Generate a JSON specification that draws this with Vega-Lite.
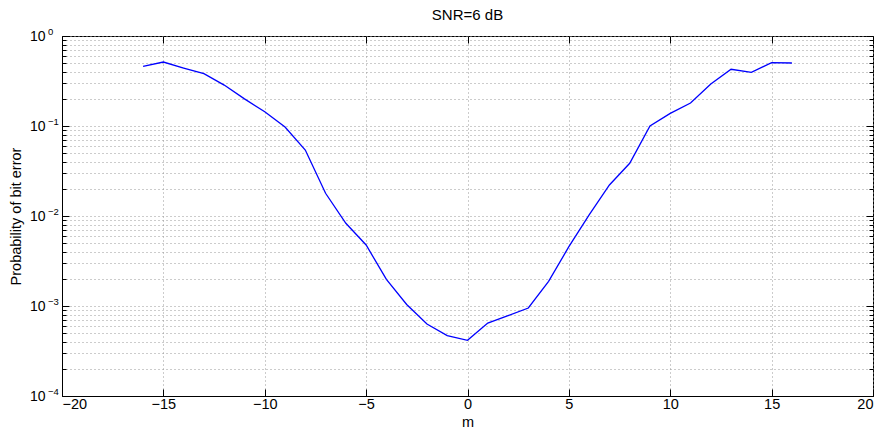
{
  "$schema": "https://vega.github.io/schema/vega-lite/v6.json",
  "width": 811,
  "height": 360,
  "autosize": {"type": "none"},
  "padding": {"left": 62, "top": 36, "right": 9, "bottom": 34},
  "background": "white",
  "title": {"text": "SNR=6 dB", "fontSize": 15, "fontWeight": "normal", "font": "Liberation Sans", "offset": 4, "color": "black"},
  "config": {
    "view": {"stroke": "black", "strokeWidth": 1},
    "axis": {"domainColor": "black", "tickColor": "black", "labelColor": "black", "titleColor": "black", "labelFont": "Liberation Sans", "titleFont": "Liberation Sans", "titleFontWeight": "normal"}
  },
  "datasets": {
    "curve": [
      {"m": -16, "p": 0.46}, {"m": -15, "p": 0.514}, {"m": -14, "p": 0.44}, {"m": -13, "p": 0.381},
      {"m": -12, "p": 0.285}, {"m": -11, "p": 0.2}, {"m": -10, "p": 0.144}, {"m": -9, "p": 0.0975},
      {"m": -8, "p": 0.054}, {"m": -7, "p": 0.0179}, {"m": -6, "p": 0.0083}, {"m": -5, "p": 0.00476},
      {"m": -4, "p": 0.00198}, {"m": -3, "p": 0.00104}, {"m": -2, "p": 0.00063}, {"m": -1, "p": 0.000468},
      {"m": 0, "p": 0.000416}, {"m": 1, "p": 0.000647}, {"m": 2, "p": 0.00078}, {"m": 3, "p": 0.00095},
      {"m": 4, "p": 0.00188}, {"m": 5, "p": 0.00456}, {"m": 6, "p": 0.0103}, {"m": 7, "p": 0.0221},
      {"m": 8, "p": 0.0385}, {"m": 9, "p": 0.1}, {"m": 10, "p": 0.138}, {"m": 11, "p": 0.18},
      {"m": 12, "p": 0.293}, {"m": 13, "p": 0.427}, {"m": 14, "p": 0.395}, {"m": 15, "p": 0.506},
      {"m": 16, "p": 0.501}
    ],
    "exponents": [
      {"p": 1, "e": "0"}, {"p": 0.1, "e": "−1"}, {"p": 0.01, "e": "−2"}, {"p": 0.001, "e": "−3"}, {"p": 0.0001, "e": "−4"}
    ]
  },
  "layer": [
    {
      "data": {"name": "curve"},
      "mark": {"type": "line", "color": "#0000ff", "strokeWidth": 1.3},
      "encoding": {
        "x": {"field": "m", "type": "quantitative", "scale": {"domain": [-20, 20], "nice": false, "zero": false},
          "axis": {"orient": "bottom", "values": [-20, -15, -10, -5, 0, 5, 10, 15, 20], "grid": true, "gridDash": [1, 3], "gridColor": "#999", "gridOpacity": 1,
            "tickSize": -7, "labelFontSize": 14.5, "labelPadding": 8, "title": "m", "titleFontSize": 14.5, "titlePadding": 5, "domain": true}},
        "y": {"field": "p", "type": "quantitative", "scale": {"type": "log", "domain": [0.0001, 1], "nice": false},
          "axis": {"orient": "left",
            "values": [0.0001, 0.0002, 0.0003, 0.0004, 0.0005, 0.0006, 0.0007, 0.0008, 0.0009, 0.001, 0.002, 0.003, 0.004, 0.005, 0.006, 0.007, 0.008, 0.009, 0.01, 0.02, 0.03, 0.04, 0.05, 0.06, 0.07, 0.08, 0.09, 0.1, 0.2, 0.3, 0.4, 0.5, 0.6, 0.7, 0.8, 0.9, 1],
            "labelExpr": "indexof([1, 0.1, 0.01, 0.001, 0.0001], datum.value) >= 0 ? '10' : ''",
            "grid": true, "gridDash": [1, 3], "gridColor": "#999", "gridOpacity": 1,
            "tickSize": {"condition": {"test": "indexof([1, 0.1, 0.01, 0.001, 0.0001], datum.value) >= 0", "value": -7}, "value": -4},
            "labelFontSize": 14, "labelPadding": 24, "labelDy": 2, "labelBound": false, "labelOverlap": false, "labelFlush": false,
            "title": "Probability of bit error", "titleFontSize": 14.5, "titlePadding": 6}}
      }
    },
    {
      "data": {"name": "curve"},
      "mark": {"type": "line", "opacity": 0},
      "encoding": {
        "x": {"field": "m", "type": "quantitative",
          "axis": {"orient": "top", "values": [-20, -15, -10, -5, 0, 5, 10, 15, 20], "grid": false, "labels": false, "title": null, "tickSize": -7, "domain": false}},
        "y": {"field": "p", "type": "quantitative",
          "axis": {"orient": "right", "values": [0.0001, 0.0002, 0.0003, 0.0004, 0.0005, 0.0006, 0.0007, 0.0008, 0.0009, 0.001, 0.002, 0.003, 0.004, 0.005, 0.006, 0.007, 0.008, 0.009, 0.01, 0.02, 0.03, 0.04, 0.05, 0.06, 0.07, 0.08, 0.09, 0.1, 0.2, 0.3, 0.4, 0.5, 0.6, 0.7, 0.8, 0.9, 1],
            "grid": false, "labels": false, "title": null, "domain": false,
            "tickSize": {"condition": {"test": "indexof([1, 0.1, 0.01, 0.001, 0.0001], datum.value) >= 0", "value": -7}, "value": -4}}}
      }
    },
    {
      "data": {"name": "exponents"},
      "mark": {"type": "text", "align": "left", "baseline": "middle", "dx": -14, "dy": -4, "fontSize": 9.5, "font": "Liberation Sans", "color": "black"},
      "encoding": {
        "x": {"datum": -20, "type": "quantitative", "axis": null},
        "y": {"field": "p", "type": "quantitative", "axis": null},
        "text": {"field": "e"}
      }
    }
  ],
  "resolve": {"axis": {"x": "independent", "y": "independent"}}
}
